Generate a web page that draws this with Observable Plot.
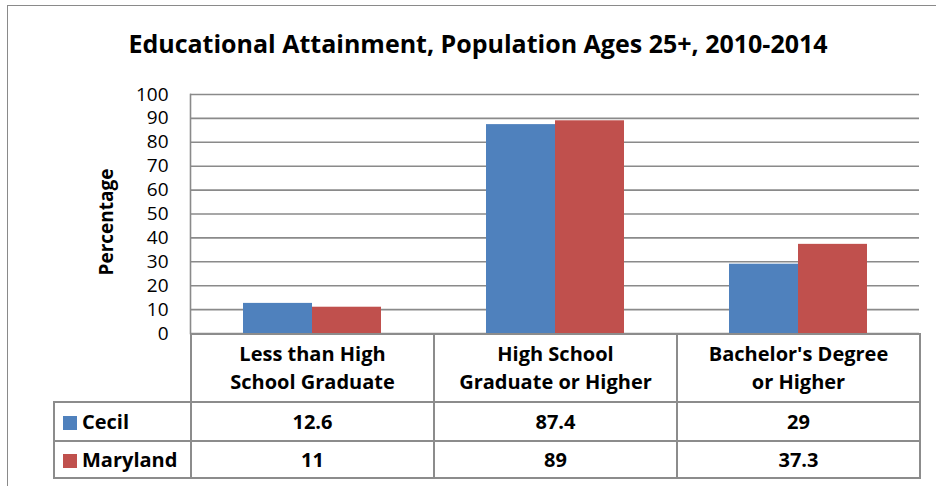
<!DOCTYPE html>
<html>
<head>
<meta charset="utf-8">
<script src="https://cdn.jsdelivr.net/npm/d3@7"></script>
<script src="https://cdn.jsdelivr.net/npm/@observablehq/plot@0.6"></script>
<style>
  body { margin: 0; background: #fff; font-family: "Open Sans", sans-serif; color: #000; }
  #wrap { position: relative; width: 936px; height: 486px; overflow: hidden; background: #fff; }
  #border { position: absolute; left: 7px; top: 5px; width: 980px; height: 520px; border: 1.5px solid #8a8a8a; }
  #title { position: absolute; left: 0; width: 956px; top: 27px; text-align: center; font-weight: bold; font-size: 25px; line-height: 32px; white-space: nowrap; }
  #ylabel { position: absolute; left: 106px; top: 222px; transform: translate(-50%, -50%) rotate(-90deg); font-weight: bold; font-size: 19px; white-space: nowrap; }
  #chart { position: absolute; left: 0; top: 0; }
  #table { position: absolute; left: 53px; top: 333px; border-collapse: collapse; table-layout: fixed; width: 866px; font-weight: bold; font-size: 20px; }
  #table td { border: 2px solid #8c8c8c; text-align: center; padding: 0; white-space: nowrap; }
  #table tr.head td { height: 66px; line-height: 28px; }
  #table tr.head td.blank { border-top: none; border-left: none; }
  #table td.legend { text-align: left; padding-left: 8px; }
  .sw { display: inline-block; width: 14px; height: 14px; margin-right: 5px; vertical-align: -1px; }
</style>
</head>
<body>
<div id="wrap">
  <div id="border"></div>
  <div id="title"></div>
  <div id="ylabel"></div>
  <div id="chart"></div>
  <table id="table"></table>
</div>
<script>
const title = "Educational Attainment, Population Ages 25+, 2010-2014";
const yLabel = "Percentage";
const categories = ["Less than High School Graduate", "High School Graduate or Higher", "Bachelor's Degree or Higher"];
const categoryLines = [["Less than High", "School Graduate"], ["High School", "Graduate or Higher"], ["Bachelor's Degree", "or Higher"]];
const series = ["Cecil", "Maryland"];
const cecil = [12.6, 87.4, 29];
const maryland = [11, 89, 37.3];
const yTicks = [0, 10, 20, 30, 40, 50, 60, 70, 80, 90, 100];
const colors = ["#4F81BD", "#C0504D"];

const values = [cecil, maryland];
const data = categories.flatMap((c, i) => series.map((s, j) => ({category: c, series: s, value: values[j][i]})));

document.getElementById("title").textContent = title;
document.getElementById("ylabel").textContent = yLabel;

const chart = Plot.plot({
  width: 936,
  height: 360,
  marginLeft: 190,
  marginRight: 17,
  marginTop: 94,
  marginBottom: 27,
  style: {fontFamily: '"Open Sans", sans-serif', fontSize: "19px", color: "#000", background: "transparent"},
  fx: {domain: categories, padding: 0, axis: null},
  x: {domain: series, paddingInner: 0, paddingOuter: 0.76, axis: null},
  y: {domain: [0, 100]},
  color: {domain: series, range: colors},
  marks: [
    Plot.gridY(yTicks, {stroke: "#8a8a8a", strokeOpacity: 1, strokeWidth: 1.6}),
    Plot.barY(data, {fx: "category", x: "series", y: "value", fill: "series"}),
    Plot.frame({anchor: "left", facetAnchor: "left", stroke: "#8a8a8a", strokeWidth: 1.6}),
    Plot.axisY(yTicks, {tickSize: 0, tickPadding: 22, label: null, fontSize: 19})
  ]
});
document.getElementById("chart").appendChild(chart);

// data table below the chart
const table = d3.select("#table");
const cg = table.append("colgroup");
cg.append("col").style("width", "137px");
categories.forEach(() => cg.append("col").style("width", "243px"));
const head = table.append("tr").attr("class", "head");
head.append("td").attr("class", "blank");
categoryLines.forEach(lines => head.append("td").html(lines.join("<br>")));
const rowHeights = ["37px", "35px"];
series.forEach((s, j) => {
  const tr = table.append("tr");
  const td = tr.append("td").attr("class", "legend").style("height", rowHeights[j]);
  td.append("span").attr("class", "sw").style("background", colors[j]);
  td.append("span").text(s);
  values[j].forEach(v => tr.append("td").text(String(v)));
});
</script>
</body>
</html>
